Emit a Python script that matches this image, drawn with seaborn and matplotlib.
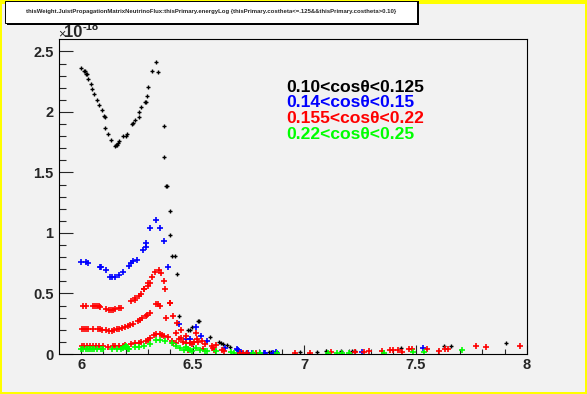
import numpy as np
import pandas as pd
import matplotlib
matplotlib.use('Agg')
import matplotlib.pyplot as plt
import seaborn as sns
from matplotlib.patches import Rectangle

W, H = 587, 394

# thisPrimary.energyLog vs thisWeight (weight in units of 1e-18)
black_x = [6.000, 6.013, 6.017, 6.022, 6.028, 6.033, 6.044, 6.051, 6.060, 6.073, 6.082, 6.093,
           6.104, 6.108, 6.109, 6.120, 6.136, 6.152, 6.156, 6.160, 6.166, 6.172, 6.190, 6.200,
           6.207, 6.230, 6.234, 6.244, 6.258, 6.262, 6.271, 6.286, 6.290, 6.295, 6.302, 6.316,
           6.334, 6.343, 6.370, 6.374, 6.383, 6.387, 6.400, 6.400, 6.410, 6.420, 6.428, 6.437,
           6.478, 6.487, 6.496, 6.525, 6.529, 6.577, 6.617, 6.626, 6.635, 6.653, 6.667, 6.700,
           6.740, 6.780, 6.844, 6.853, 6.870, 6.980, 7.056, 7.100, 7.164, 7.213, 7.230, 7.434,
           7.627, 7.658, 7.907]
black_y = [2.36, 2.34, 2.34, 2.31, 2.31, 2.27, 2.23, 2.19, 2.15, 2.10, 2.06, 2.02,
           1.97, 1.96, 1.87, 1.82, 1.77, 1.72, 1.73, 1.73, 1.74, 1.76, 1.80, 1.80,
           1.82, 1.90, 1.91, 1.93, 1.96, 2.00, 2.04, 2.08, 2.08, 2.13, 2.21, 2.34,
           2.41, 2.33, 1.88, 1.63, 1.39, 1.39, 1.18, 0.98, 0.81, 0.81, 0.66, 0.31,
           0.20, 0.196, 0.22, 0.27, 0.27, 0.138, 0.097, 0.088, 0.080, 0.072, 0.055, 0.039,
           0.015, 0.012, 0.014, 0.014, 0.014, 0.017, 0.017, 0.022, 0.022, 0.022, 0.022, 0.047,
           0.064, 0.064, 0.088]

blue_x = [6.000, 6.024, 6.033, 6.084, 6.089, 6.110, 6.130, 6.140, 6.150, 6.168, 6.190, 6.213,
          6.222, 6.235, 6.249, 6.276, 6.289, 6.293, 6.311, 6.338, 6.356, 6.370, 6.388, 6.440,
          6.470, 6.487, 6.514, 6.536, 6.563, 6.644, 6.700, 6.705, 6.716, 6.748, 6.766, 6.820,
          6.825, 6.860, 6.875, 7.260, 7.534]
blue_y = [0.76, 0.76, 0.75, 0.72, 0.72, 0.69, 0.64, 0.64, 0.64, 0.65, 0.68, 0.725,
          0.75, 0.766, 0.78, 0.857, 0.88, 0.92, 1.04, 1.11, 1.04, 0.93, 0.72, 0.245,
          0.12, 0.12, 0.22, 0.146, 0.105, 0.047, 0.039, 0.030, 0.014, 0.006, 0.006, 0.006,
          0.006, 0.006, 0.014, 0.014, 0.047]

red_a_x = [6.010, 6.020, 6.055, 6.064, 6.073, 6.082, 6.087, 6.110, 6.127, 6.136, 6.145, 6.154,
           6.168, 6.177, 6.222, 6.240, 6.244, 6.258, 6.267, 6.280, 6.284, 6.298, 6.302, 6.311,
           6.316, 6.330, 6.350, 6.357, 6.370, 6.378, 6.397, 6.400, 6.412, 6.428, 6.446]
red_a_y = [0.40, 0.40, 0.394, 0.394, 0.394, 0.394, 0.386, 0.369, 0.361, 0.361, 0.361, 0.369,
           0.378, 0.378, 0.435, 0.46, 0.45, 0.477, 0.493, 0.535, 0.535, 0.56, 0.59, 0.59,
           0.634, 0.675, 0.69, 0.667, 0.60, 0.54, 0.42, 0.42, 0.31, 0.26, 0.196]

red_b_x = [6.003, 6.012, 6.021, 6.030, 6.052, 6.078, 6.087, 6.096, 6.114, 6.127, 6.140, 6.149,
           6.162, 6.171, 6.184, 6.198, 6.211, 6.220, 6.233, 6.255, 6.264, 6.273, 6.291, 6.296,
           6.309, 6.334, 6.343, 6.352, 6.383, 6.424, 6.440, 6.446, 6.455, 6.469, 6.470, 6.487,
           6.496, 6.505, 6.514, 6.518, 6.523, 6.541, 6.554, 6.545, 6.586, 6.590, 6.595, 6.604,
           6.631, 6.640]
red_b_y = [0.204, 0.204, 0.204, 0.204, 0.204, 0.204, 0.204, 0.196, 0.196, 0.188, 0.188, 0.196,
           0.204, 0.204, 0.212, 0.22, 0.229, 0.237, 0.245, 0.27, 0.278, 0.295, 0.31, 0.32,
           0.336, 0.41, 0.41, 0.40, 0.30, 0.17, 0.12, 0.13, 0.097, 0.146, 0.088, 0.088,
           0.08, 0.10, 0.17, 0.12, 0.097, 0.105, 0.08, 0.039, 0.064, 0.047, 0.030, 0.072,
           0.030, 0.022]

red_c_x = [6.006, 6.015, 6.028, 6.042, 6.055, 6.069, 6.082, 6.100, 6.123, 6.141, 6.154, 6.168,
           6.186, 6.199, 6.226, 6.244, 6.258, 6.271, 6.289, 6.302, 6.311, 6.329, 6.338, 6.352,
           6.361, 6.374, 6.388, 6.406, 6.413, 6.424, 6.480, 6.712, 6.726, 6.744, 6.785, 6.960,
           7.026, 7.120, 7.230, 7.270, 7.290, 7.348, 7.384, 7.400, 7.420, 7.440, 7.470, 7.485,
           7.550, 7.607, 7.630, 7.645, 7.772, 7.817, 7.970]
red_c_y = [0.064, 0.064, 0.064, 0.064, 0.064, 0.064, 0.064, 0.064, 0.056, 0.064, 0.064, 0.064,
           0.064, 0.072, 0.08, 0.088, 0.088, 0.097, 0.105, 0.113, 0.13, 0.155, 0.163, 0.163,
           0.155, 0.146, 0.138, 0.105, 0.09, 0.088, 0.030, 0.008, 0.008, 0.006, 0.006, 0.008,
           0.008, 0.014, 0.014, 0.014, 0.022, 0.022, 0.030, 0.030, 0.030, 0.017, 0.039, 0.039,
           0.039, 0.022, 0.039, 0.039, 0.064, 0.055, 0.064]

green_x = [6.000, 6.010, 6.020, 6.030, 6.040, 6.050, 6.060, 6.070, 6.090, 6.100, 6.140, 6.160,
           6.180, 6.190, 6.195, 6.200, 6.205, 6.210, 6.215, 6.240, 6.258, 6.280, 6.307, 6.334,
           6.356, 6.378, 6.406, 6.424, 6.442, 6.460, 6.470, 6.478, 6.487, 6.496, 6.517, 6.535,
           6.557, 6.566, 6.607, 6.672, 6.686, 6.771, 6.801, 6.880, 7.107, 7.150, 7.170, 7.200,
           7.360, 7.490, 7.540, 7.710]
green_y = [0.039, 0.039, 0.039, 0.039, 0.039, 0.039, 0.039, 0.039, 0.039, 0.039, 0.039, 0.045,
           0.045, 0.05, 0.06, 0.065, 0.055, 0.045, 0.04, 0.055, 0.055, 0.064, 0.08, 0.113,
           0.113, 0.105, 0.088, 0.064, 0.047, 0.030, 0.055, 0.039, 0.030, 0.022, 0.047, 0.030,
           0.022, 0.022, 0.022, 0.014, 0.006, 0.006, 0.006, 0.006, 0.006, 0.006, 0.006, 0.006,
           0.008, 0.017, 0.014, 0.033]

bands = ['0.10<cos\u03b8<0.125', '0.14<cos\u03b8<0.15', '0.155<cos\u03b8<0.22', '0.22<cos\u03b8<0.25']
band_colors = ['#000000', '#0000ff', '#ff0000', '#00ff00']

xticks = [6, 6.5, 7, 7.5, 8]
xtick_labels = ['6', '6.5', '7', '7.5', '8']
yticks = [0, 0.5, 1, 1.5, 2, 2.5]
ytick_labels = ['0', '0.5', '1', '1.5', '2', '2.5']

title = ('thisWeight.JuistPropagationMatrixNeutrinoFlux:thisPrimary.energyLog '
         '{thisPrimary.costheta<=.125&&thisPrimary.costheta>0.10}')

series = [
    (black_x, black_y, band_colors[0], 7, 1.0),
    (blue_x, blue_y, band_colors[1], 14, 1.2),
    (red_a_x, red_a_y, band_colors[2], 14, 1.2),
    (red_b_x, red_b_y, band_colors[2], 14, 1.2),
    (red_c_x, red_c_y, band_colors[2], 14, 1.2),
    (green_x, green_y, band_colors[3], 14, 1.2),
]


def fx(px):
    return px / W


def fy(py):
    return 1 - py / H


sns.set_style('ticks')
plt.rcParams['font.family'] = ['Liberation Sans', 'DejaVu Sans']
plt.rcParams['font.weight'] = 'bold'

fig = plt.figure(figsize=(W / 100, H / 100), dpi=100, facecolor='#ffff00')
fig.patches.append(Rectangle((fx(2), fy(392)), fx(583), 388 / H, transform=fig.transFigure,
                             facecolor='#f2f2f2', edgecolor='none', zorder=-5))

ax = fig.add_axes([fx(59), fy(354), fx(527 - 59), (354 - 39.3) / H])
ax.set_zorder(2)
ax.set_facecolor('#f2f2f2')

for xs, ys, col, sz, lw in series:
    df = pd.DataFrame({'energyLog': xs, 'weight': ys})
    sns.scatterplot(data=df, x='energyLog', y='weight', color=col, marker='+', s=sz,
                    linewidth=lw, ax=ax, legend=False, clip_on=True)

ax.set_xlim(5.901, 8.0)
ax.set_ylim(0, 2.60)
ax.set_xlabel('')
ax.set_ylabel('')

ax.set_xticks(xticks, labels=xtick_labels)
ax.set_yticks(yticks, labels=ytick_labels)
ax.set_xticks(np.arange(6.0, 8.0, 0.1), minor=True)
ax.set_yticks(np.arange(0.0, 2.6, 0.1), minor=True)
ax.tick_params(axis='x', which='major', direction='in', length=6.8, width=0.8, pad=3,
               labelsize=10.5, top=False)
ax.tick_params(axis='x', which='minor', direction='in', length=3.4, width=0.8, top=False)
ax.tick_params(axis='y', which='major', direction='in', length=10, width=0.8, pad=4,
               labelsize=10.5, right=False)
ax.tick_params(axis='y', which='minor', direction='in', length=5, width=0.8, right=False)
for lab in ax.get_xticklabels() + ax.get_yticklabels():
    lab.set_fontweight('bold')
for sp in ax.spines.values():
    sp.set_visible(True)
    sp.set_linewidth(0.8)
    sp.set_color('black')

# band labels
baselines = [91.5, 107, 123, 138.5]
for lab, col, b in zip(bands, band_colors, baselines):
    fig.text(fx(286), fy(b), lab, color=col, fontsize=12.6, fontweight='bold',
             ha='left', va='baseline', zorder=4)

# exponent of the y axis
fig.text(fx(58), fy(37), '\u00d7', fontsize=9, fontweight='normal', ha='left', va='baseline')
fig.text(fx(64), fy(37), '10', fontsize=12, fontweight='bold', ha='left', va='baseline')
fig.text(fx(83), fy(29.5), '-18', fontsize=8, fontweight='bold', ha='left', va='baseline')

# title box with shadow
fig.patches.append(Rectangle((fx(7), fy(24.5)), fx(412), 23 / H, transform=fig.transFigure,
                             facecolor='black', edgecolor='none', zorder=5))
fig.patches.append(Rectangle((fx(5), fy(22.5)), fx(412), 22 / H, transform=fig.transFigure,
                             facecolor='white', edgecolor='black', linewidth=0.7, zorder=6))
fig.text(fx(211), fy(12), title, fontsize=4.35, fontweight='bold', ha='center', va='center',
         zorder=7)

fig.savefig('out.png', dpi=100, facecolor=fig.get_facecolor())
